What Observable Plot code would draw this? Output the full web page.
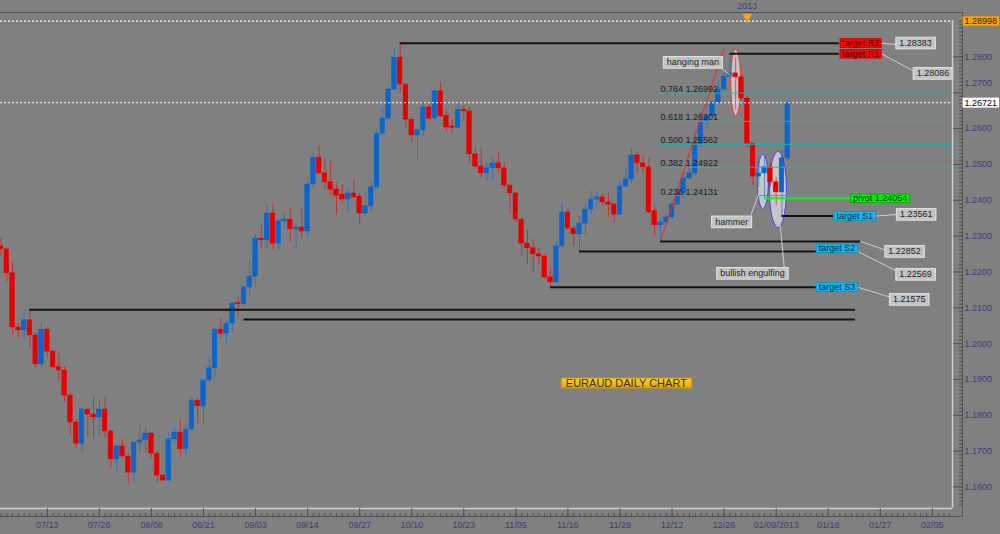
<!DOCTYPE html>
<html><head><meta charset="utf-8">
<script src="https://cdn.jsdelivr.net/npm/d3@7"></script>
<script src="https://cdn.jsdelivr.net/npm/@observablehq/plot@0.6"></script>
<style>html,body{margin:0;padding:0;background:#808080;overflow:hidden}</style>
</head><body><div id="chart"></div>
<script>
// ---- EURAUD daily OHLC (bar index 0 = 2012-07-03 … 136 = 2013-01-11) ----
const open = [1.2271,1.2263,1.2196,1.2045,1.2037,1.2065,1.2023,1.1942,1.2039,1.1978,1.1934,1.1925,1.1855,1.1780,1.1721,1.1816,1.1802,1.1794,1.1816,1.1755,1.1677,1.1713,1.1685,1.1640,1.1724,1.1730,1.1749,1.1693,1.1632,1.1618,1.1733,1.1752,1.1705,1.1760,1.1841,1.1825,1.1897,1.1931,1.2039,1.2028,1.2056,1.2113,1.2110,1.2157,1.2187,1.2293,1.2288,1.2363,1.2279,1.2341,1.2346,1.2319,1.2324,1.2313,1.2444,1.2519,1.2475,1.2450,1.2430,1.2416,1.2402,1.2419,1.2410,1.2363,1.2383,1.2436,1.2586,1.2628,1.2709,1.2798,1.2723,1.2625,1.2581,1.2595,1.2659,1.2628,1.2704,1.2636,1.2606,1.2602,1.2653,1.2648,1.2528,1.2494,1.2475,1.2489,1.2503,1.2489,1.2441,1.2419,1.2346,1.2279,1.2266,1.2249,1.2243,1.2185,1.2171,1.2271,1.2366,1.2321,1.2305,1.2335,1.2374,1.2402,1.2408,1.2394,1.2388,1.2360,1.2438,1.2458,1.2525,1.2503,1.2492,1.2369,1.2330,1.2338,1.2352,1.2388,1.2419,1.2461,1.2475,1.2556,1.2620,1.2634,1.2673,1.2709,1.2745,1.2754,1.2743,1.2684,1.2558,1.2466,1.2475,1.2492,1.2450,1.2422,1.2517];
const high = [1.2296,1.2266,1.2226,1.2059,1.2095,1.2094,1.2031,1.2056,1.2045,1.1980,1.1972,1.1936,1.1861,1.1788,1.1822,1.1819,1.1850,1.1841,1.1852,1.1758,1.1716,1.1733,1.1693,1.1725,1.1772,1.1766,1.1752,1.1702,1.1635,1.1752,1.1766,1.1788,1.1777,1.1850,1.1847,1.1903,1.1959,1.2045,1.2070,1.2065,1.2115,1.2129,1.2159,1.2226,1.2305,1.2332,1.2388,1.2388,1.2344,1.2363,1.2377,1.2335,1.2377,1.2450,1.2533,1.2550,1.2514,1.2508,1.2447,1.2444,1.2430,1.2458,1.2419,1.2419,1.2450,1.2600,1.2662,1.2715,1.2824,1.28383,1.2726,1.2628,1.2603,1.2673,1.2667,1.2709,1.2731,1.2648,1.2625,1.2670,1.2664,1.2659,1.2547,1.2547,1.2503,1.2519,1.2531,1.2505,1.2447,1.2420,1.2349,1.2316,1.2291,1.2266,1.2249,1.2212,1.2285,1.2394,1.2374,1.2330,1.2355,1.2394,1.2425,1.2422,1.2416,1.2419,1.2391,1.2453,1.2492,1.2545,1.2533,1.2525,1.2519,1.2380,1.2349,1.2358,1.2394,1.2433,1.2483,1.2503,1.2595,1.2645,1.2667,1.2676,1.2734,1.2757,1.28086,1.2798,1.2745,1.2690,1.2560,1.2505,1.2525,1.2503,1.2464,1.2539,1.2674];
const low = [1.2243,1.2171,1.2023,1.2014,1.2009,1.1986,1.1933,1.1933,1.1959,1.1931,1.1892,1.1836,1.1744,1.1705,1.1696,1.1738,1.1738,1.1741,1.1735,1.1652,1.1643,1.1680,1.1607,1.1610,1.1696,1.1696,1.1682,1.1613,1.1615,1.1615,1.1724,1.1682,1.1688,1.1758,1.1777,1.1777,1.1892,1.1903,1.2014,1.2000,1.2031,1.2073,1.2104,1.2129,1.2157,1.2263,1.2266,1.2260,1.2260,1.2319,1.2282,1.2260,1.2293,1.2296,1.2433,1.2473,1.2430,1.2413,1.2358,1.2391,1.2366,1.2405,1.2330,1.2355,1.2366,1.2430,1.2581,1.2623,1.2706,1.2698,1.2603,1.2561,1.2508,1.2578,1.2620,1.2623,1.2631,1.2592,1.2584,1.2600,1.2620,1.2503,1.2486,1.2461,1.2455,1.2455,1.2475,1.2433,1.2360,1.2335,1.2243,1.2221,1.2196,1.2218,1.2179,1.21575,1.2168,1.2268,1.2316,1.2271,1.22569,1.2305,1.2358,1.2380,1.2385,1.2352,1.2335,1.2358,1.2436,1.2447,1.2475,1.2475,1.2363,1.2299,1.22852,1.2330,1.2344,1.2385,1.2405,1.2455,1.2469,1.2547,1.2595,1.2631,1.2670,1.2706,1.2743,1.2651,1.2678,1.2545,1.2441,1.2436,1.24054,1.2436,1.2385,1.23561,1.2511];
const close = [1.2263,1.2196,1.2045,1.2037,1.2065,1.2023,1.1942,1.2039,1.1978,1.1934,1.1925,1.1855,1.1780,1.1721,1.1816,1.1802,1.1794,1.1816,1.1755,1.1677,1.1713,1.1685,1.1640,1.1724,1.1730,1.1749,1.1693,1.1632,1.1618,1.1733,1.1752,1.1705,1.1760,1.1841,1.1825,1.1897,1.1931,1.2039,1.2028,1.2056,1.2112,1.2110,1.2157,1.2187,1.2293,1.2288,1.2363,1.2279,1.2341,1.2346,1.2319,1.2324,1.2313,1.2444,1.2519,1.2475,1.2450,1.2430,1.2413,1.2402,1.2419,1.2408,1.2363,1.2383,1.2436,1.2586,1.2628,1.2709,1.2798,1.2723,1.2625,1.2581,1.2595,1.2659,1.2628,1.2704,1.2634,1.2603,1.2602,1.2653,1.2648,1.2528,1.2494,1.2475,1.2489,1.2503,1.2489,1.2441,1.2419,1.2346,1.2279,1.2266,1.2249,1.2243,1.2185,1.2171,1.2271,1.2366,1.2321,1.2305,1.2335,1.2374,1.2402,1.2408,1.2394,1.2388,1.2360,1.2438,1.2458,1.2525,1.2503,1.2492,1.2366,1.2330,1.2338,1.2352,1.2388,1.2419,1.2461,1.2475,1.2556,1.2618,1.2634,1.2673,1.2709,1.2745,1.2754,1.2743,1.2684,1.2558,1.2466,1.2475,1.2492,1.2450,1.2422,1.2517,1.26721];

// ---- time axis labels (bar index of each labelled day) ----
const dateTickIndex = [8,17,26,35,44,53,62,71,80,89,98,107,116,125,134,143,152,161];
const dateTickLabel = ["07/13","07/26","08/08","08/21","09/03","09/14","09/27","10/10","10/23","11/05","11/16","11/29","12/12","12/26","01/09/2013","01/18","01/27","02/05"];
const yearIndex = 129, yearLabel = "2013";

// ---- price axis ----
const priceTicks = [1.16,1.17,1.18,1.19,1.20,1.21,1.22,1.23,1.24,1.25,1.26,1.27,1.28];
const askPrice = 1.28998, lastPrice = 1.26721;

// ---- support / resistance lines ----
const levelPrice = [1.28383, 1.28086, 1.23561, 1.22852, 1.22569, 1.21575, 1.20944, 1.20674];
const levelFrom  = [69, 126, 135, 114, 100, 95, 5, 42];
const levelTo    = [144.9, 144.9, 143.9, 148.6, 147.4, 141.0, 147.7, 147.7];
const pivotPrice = 1.24054, pivotFrom = 132, pivotTo = 147.0;

// ---- Fibonacci retracement ----
const fibRatio = ["0.764","0.618","0.500","0.382","0.236"];
const fibPrice = [1.26992, 1.26201, 1.25562, 1.24922, 1.24131];
const fibAnchorLow = {i: 114, p: 1.22852}, fibAnchorHigh = {i: 125.05, p: 1.28271};

// ---- text annotations ----
const labelText  = ["target R2","target R1","1.28383","1.28086","hanging man","pivot 1.24054","target S1","1.23561","1.22852","target S2","1.22569","target S3","1.21575","hammer","bullish engulfing"];
const labelIndex = [148.6, 148.6, 158.1, 161.1, 119.6, 152.0, 147.6, 158.2, 156.2, 144.5, 158.1, 144.5, 157.0, 126.3, 129.9];
const labelPrice = [1.28383, 1.28086, 1.28383, 1.27537, 1.27844, 1.24054, 1.23561, 1.23603, 1.22570, 1.22655, 1.21929, 1.21575, 1.21231, 1.23394, 1.21957];
const labelKind  = ["red","red","grey","grey","grey","green","cyan","grey","grey","cyan","grey","cyan","grey","grey","grey"];
const leaders = [ // [i1, p1, i2, p2]
  [152.2, 1.28383, 155.0, 1.28338],
  [152.2, 1.28086, 157.9, 1.27593],
  [151.3, 1.23561, 155.0, 1.23603],
  [148.6, 1.22852, 153.1, 1.22598],
  [148.1, 1.22569, 155.0, 1.22013],
  [148.1, 1.21575, 153.9, 1.21287],
  [124.4, 1.27705, 126.1, 1.27481],
  [129.6, 1.23575, 131.1, 1.24220],
  [135.4, 1.22123, 134.7, 1.23296]
];
const ellipses = [ // centre bar, centre price, half-width (bars), half-height (price), outline
  {i: 127.0, p: 1.27286, ri: 0.86, rp: 0.0092, stroke: "#ff2b2b"},
  {i: 131.7, p: 1.24524, ri: 0.95, rp: 0.00753, stroke: "#3b3bff"},
  {i: 134.3, p: 1.24301, ri: 1.47, rp: 0.0106, stroke: "#3b3bff"}
];
const chartTitle = {text: "EURAUD DAILY CHART", i: 108.1, p: 1.18888};

// ---- build ----
const candles = open.map((o, i) => ({i, o, h: high[i], l: low[i], c: close[i], up: close[i] >= o}));
const BLUE = "#0a66cc", RED = "#e60000";
const xDomain = [-0.0864, 164.48];
const yDomain = [1.15400, 1.29016];
const xMax = xDomain[1];
const levels = levelPrice.map((p, k) => ({p, a: levelFrom[k], b: levelTo[k]}));
const fibs = fibPrice.map((p, k) => ({p, t: fibRatio[k] + " " + p.toFixed(5)}));
const labels = labelText.map((t, k) => ({t, i: labelIndex[k], p: labelPrice[k], kind: labelKind[k]}));
const ellPts = ellipses.map(e => d3.range(0, 73).map(k => {
  const a = k / 72 * 2 * Math.PI;
  return {x: e.i + e.ri * Math.cos(a), y: e.p + e.rp * Math.sin(a)};
}));
const dateLabelMap = new Map(dateTickIndex.map((d, k) => [d, dateTickLabel[k]]));
const AXIS_TXT = "#3d3d7c", AXIS_LINE = "#505050";

// each boxed-label group gets its own text colour, used to find it again after rendering
const boxStyle = {
  red:    {text: "#3a0000", fill: "#ff0000", stroke: "#d00000", px: 2, py: -0.7},
  cyan:   {text: "#0d2a40", fill: "#14b8ee", stroke: "#0c95c8", px: 2.5, py: -0.7},
  grey:   {text: "#1c1c1c", fill: "#c3c3c3", stroke: "#e4e4e4", px: 3.5, py: 0.8},
  green:  {text: "#063806", fill: "#00ee00", stroke: "#00b400", px: 2.5, py: -0.7},
  orange: {text: "#2a1a00", fill: "#ffa200", stroke: "none", px: 2, py: -0.3},
  white:  {text: "#000000", fill: "#ffffff", stroke: "none", px: 2, py: 0},
  gold:   {text: "#3a2c00", fill: "url(#gold)", stroke: "#c89600", px: 4.5, py: -1}
};

const svg = Plot.plot({
  width: 1000, height: 534,
  marginLeft: 0, marginRight: 48, marginTop: 20, marginBottom: 26,
  x: {type: "linear", domain: xDomain},
  y: {type: "linear", domain: yDomain},
  style: {background: "#808080", fontFamily: "'Liberation Sans', Arial, sans-serif", fontSize: "9px", color: AXIS_TXT},
  marks: [
    // pattern ellipses (behind candles)
    ...ellPts.map((pts, k) => Plot.line(pts, {x: "x", y: "y", stroke: ellipses[k].stroke, strokeWidth: 1, fill: "#d2d2d6", fillOpacity: 0.85})),
    // candles
    Plot.ruleX(candles, {x: "i", y1: "l", y2: "h", stroke: d => d.up ? BLUE : RED, strokeOpacity: 0.6, strokeWidth: 1}),
    Plot.rect(candles, {x1: d => d.i - 0.4, x2: d => d.i + 0.4, y1: "o", y2: "c", fill: d => d.up ? BLUE : RED, stroke: d => d.up ? BLUE : RED, strokeWidth: 0.5}),
    // fibonacci
    Plot.ruleY(fibs, {y: "p", x1: fibAnchorLow.i, x2: xMax, stroke: "#1fb3b3", strokeWidth: 1}),
    Plot.link([0], {x1: fibAnchorLow.i, y1: fibAnchorLow.p, x2: fibAnchorHigh.i, y2: fibAnchorHigh.p, stroke: "#ff2020", strokeWidth: 1}),
    Plot.text(fibs, {x: fibAnchorLow.i, y: "p", text: "t", textAnchor: "start", lineAnchor: "bottom", dy: -1, fill: "#1a1a1a", fontSize: 9}),
    // price lines
    Plot.ruleY([askPrice, lastPrice], {stroke: "#ffffff", strokeWidth: 1.2, strokeDasharray: "2,2"}),
    Plot.ruleY(levels, {y: "p", x1: "a", x2: "b", stroke: "#141414", strokeWidth: 2}),
    Plot.ruleY([pivotPrice], {x1: pivotFrom, x2: pivotTo, stroke: "#00ff00", strokeWidth: 2}),
    // leaders
    Plot.link(leaders, {x1: d => d[0], y1: d => d[1], x2: d => d[2], y2: d => d[3], stroke: "#cfcfcf", strokeWidth: 1}),
    // boxed labels
    ...["red", "cyan", "grey", "green"].map(kind => Plot.text(labels.filter(d => d.kind === kind), {x: "i", y: "p", text: "t", fill: boxStyle[kind].text, fontSize: 9})),
    Plot.text([chartTitle], {x: "i", y: "p", text: "text", fill: boxStyle.gold.text, fontSize: 11}),
    // frame
    Plot.ruleX([xMax], {stroke: "#cfcfcf", strokeWidth: 1.5}),
    Plot.ruleY([yDomain[0]], {stroke: "#cfcfcf", strokeWidth: 1.5}),
    Plot.ruleY([yDomain[0]], {dy: 8, x1: xDomain[0], x2: xMax + 1.7, stroke: AXIS_LINE}),
    Plot.ruleY([yDomain[1]], {dy: -8, x1: xDomain[0], x2: xMax + 1.7, stroke: AXIS_LINE}),
    Plot.ruleX([xMax], {dx: 10, y1: yDomain[0] - 0.0023, y2: yDomain[1] + 0.0023, stroke: AXIS_LINE}),
    // time axis
    Plot.axisX({anchor: "bottom", ticks: dateTickIndex, tickSize: 8, tickPadding: 5, tickFormat: d => dateLabelMap.get(d), stroke: AXIS_LINE, fill: AXIS_TXT, fontSize: 9}),
    Plot.axisX({anchor: "bottom", ticks: d3.range(0, 165), tickSize: 3, dy: 5, tickFormat: () => "", stroke: AXIS_LINE}),
    Plot.text([yearLabel], {x: yearIndex, y: yDomain[1], dy: -14, text: d => d, fill: AXIS_TXT, fontSize: 9}),
    Plot.dot([yearIndex], {x: d => d, y: yDomain[1], dy: -4, symbol: "triangle", rotate: 180, r: 3.6, fill: "#ff9f10", stroke: null}),
    // price axis
    Plot.axisY({anchor: "right", ticks: priceTicks, tickSize: 10, tickPadding: 2, tickFormat: d => Math.abs(d - 1.27) < 1e-9 ? "" : d.toFixed(4), stroke: AXIS_LINE, fill: AXIS_TXT, fontSize: 9}),
    Plot.axisY({anchor: "right", ticks: [1.27], tickSize: 0, tickPadding: 12, dy: -10, tickFormat: d => d.toFixed(4), fill: AXIS_TXT, fontSize: 9}),
    Plot.axisY({anchor: "right", ticks: d3.range(1155, 1291).map(k => k / 1000), tickSize: 4, dx: 6, tickFormat: () => "", stroke: AXIS_LINE}),
    Plot.text([askPrice], {x: xMax, y: d => d, dx: 12, text: d => d.toFixed(5), textAnchor: "start", fill: boxStyle.orange.text, fontSize: 9}),
    Plot.text([lastPrice], {x: xMax, y: d => d, dx: 12, text: d => d.toFixed(5), textAnchor: "start", fill: boxStyle.white.text, fontSize: 9})
  ]
});
document.getElementById("chart").appendChild(svg);

// boxes behind the labelled texts, sized from the rendered text
const NS = "http://www.w3.org/2000/svg";
const defs = document.createElementNS(NS, "defs");
defs.innerHTML = '<linearGradient id="gold" x1="0" y1="0" x2="0" y2="1"><stop offset="0" stop-color="#ffd428"/><stop offset="1" stop-color="#e0a800"/></linearGradient>';
svg.insertBefore(defs, svg.firstChild);
for (const st of Object.values(boxStyle)) {
  svg.querySelectorAll(`g[fill="${st.text}"] > text`).forEach(t => {
    const b = t.getBBox();
    const r = document.createElementNS(NS, "rect");
    r.setAttribute("x", b.x - st.px); r.setAttribute("y", b.y - st.py);
    r.setAttribute("width", b.width + 2 * st.px); r.setAttribute("height", b.height + 2 * st.py);
    r.setAttribute("fill", st.fill); r.setAttribute("stroke", st.stroke);
    if (t.getAttribute("transform")) r.setAttribute("transform", t.getAttribute("transform"));
    t.parentNode.insertBefore(r, t);
  });
}
</script>
</body></html>
